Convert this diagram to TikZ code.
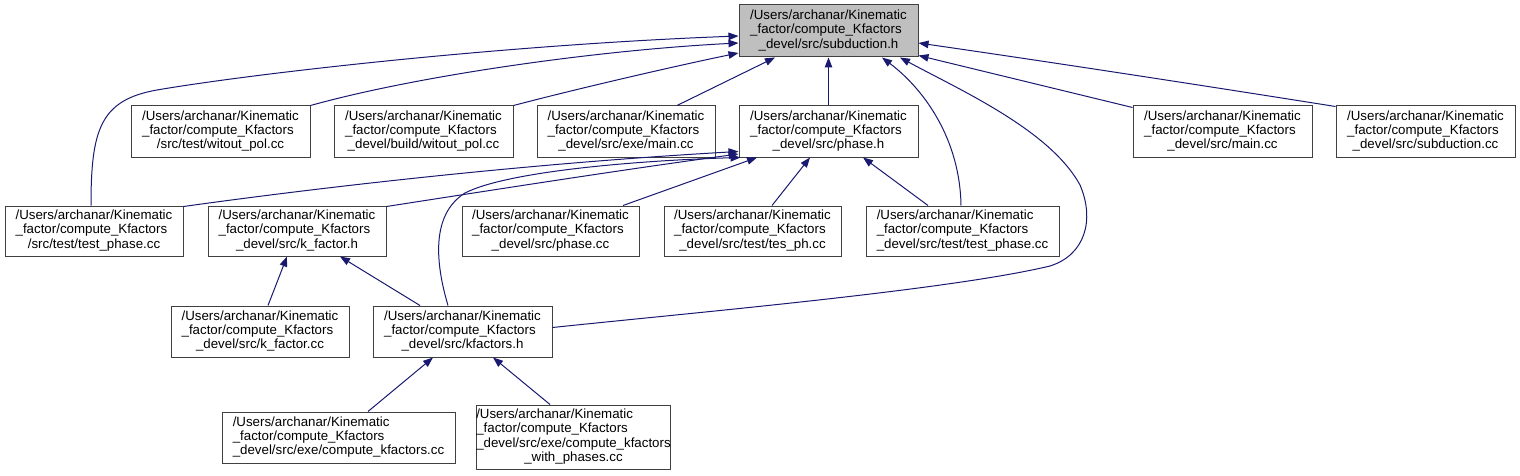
\documentclass[tikz,border=0pt]{standalone}
\usepackage{fontspec}
\setmainfont{Liberation Sans}
\usetikzlibrary{arrows.meta}
\definecolor{edgeblue}{HTML}{191970}
\definecolor{boxline}{HTML}{404040}
\definecolor{boxgray}{HTML}{BFBFBF}
\newcommand\tlines[3]{\begin{tabular}{@{}l@{}}#1\\#2\\\multicolumn{1}{@{}c@{}}{#3}\end{tabular}}
\newcommand\qlines[4]{\begin{tabular}{@{}l@{}}#1\\#2\\#3\\\multicolumn{1}{@{}c@{}}{#4}\end{tabular}}
\newcommand\UK{/Users/archanar/Kinematic}
\newcommand\FC{\_factor/compute\_Kfactors}
\begin{document}
\begin{tikzpicture}[x=1pt,y=-1pt,
  filebox/.style={draw=boxline, line width=1pt, fill=white, rectangle, inner sep=0pt,
    font=\fontsize{13.3pt}{14.3pt}\selectfont, text=black},
  edge/.style={draw=edgeblue, line width=1pt, -{Triangle[length=10pt,width=7.5pt]}}]
\useasboundingbox (0,0) rectangle (1520,476);
% nodes
\node[filebox, fill=boxgray, minimum width=179pt, minimum height=52pt] (S) at (828.5,31) {\tlines{\UK}{\FC}{\_devel/src/subduction.h}};
\node[filebox, minimum width=179pt, minimum height=51pt] (A) at (220.5,131.5) {\tlines{\UK}{\FC}{/src/test/witout\_pol.cc}};
\node[filebox, minimum width=179pt, minimum height=51pt] (B) at (423.5,131.5) {\tlines{\UK}{\FC}{\_devel/build/witout\_pol.cc}};
\node[filebox, minimum width=178pt, minimum height=51pt] (C) at (626,131.5) {\tlines{\UK}{\FC}{\_devel/src/exe/main.cc}};
\node[filebox, minimum width=179pt, minimum height=51pt] (D) at (828.5,131.5) {\tlines{\UK}{\FC}{\_devel/src/phase.h}};
\node[filebox, minimum width=179pt, minimum height=51pt] (E) at (1222.5,131.5) {\tlines{\UK}{\FC}{\_devel/src/main.cc}};
\node[filebox, minimum width=179pt, minimum height=51pt] (F) at (1425.5,131.5) {\tlines{\UK}{\FC}{\_devel/src/subduction.cc}};
\node[filebox, minimum width=178pt, minimum height=50pt] (G) at (94,231) {\tlines{\UK}{\FC}{/src/test/test\_phase.cc}};
\node[filebox, minimum width=178pt, minimum height=50pt] (H) at (297,231) {\tlines{\UK}{\FC}{\_devel/src/k\_factor.h}};
\node[filebox, minimum width=177pt, minimum height=50pt] (I) at (550.5,231) {\tlines{\UK}{\FC}{\_devel/src/phase.cc}};
\node[filebox, minimum width=177pt, minimum height=50pt] (J) at (752.5,231) {\tlines{\UK}{\FC}{\_devel/src/test/tes\_ph.cc}};
\node[filebox, minimum width=193pt, minimum height=50pt] (K) at (962.5,231) {\tlines{\UK}{\FC}{\_devel/src/test/test\_phase.cc}};
\node[filebox, minimum width=178pt, minimum height=51pt] (L) at (260,331.5) {\tlines{\UK}{\FC}{\_devel/src/k\_factor.cc}};
\node[filebox, minimum width=179pt, minimum height=51pt] (M) at (462.5,331.5) {\tlines{\UK}{\FC}{\_devel/src/kfactors.h}};
\node[filebox, minimum width=233pt, minimum height=51pt] (N) at (338.5,437.5) {\tlines{\UK}{\FC}{\_devel/src/exe/compute\_kfactors.cc}};
\node[filebox, minimum width=189pt, minimum height=64pt] (O) at (573.5,437) {\qlines{\UK}{\FC}{\_devel/src/exe/compute\_kfactors}{\_with\_phases.cc}};
% edges into subduction.h
\draw[edge] ([xshift=-3pt]G.north) .. controls (91,130) and (100,100) .. (157,90) .. controls (250,74) and (500,45) .. ([yshift=-5pt]S.west);
\draw[edge] (A.north east) .. controls (420,75) and (600,50) .. ([yshift=-12pt]S.west);
\draw[edge] (B.north east) .. controls (580,88) and (680,65) .. ([yshift=-22pt]S.west);
\draw[edge] ([xshift=51pt]C.north) -- ([xshift=-53.5pt]S.south);
\draw[edge] (D.north) -- (S.south);
\draw[edge] ([xshift=-1.5pt]K.north) .. controls (960,140) and (925,90) .. ([xshift=53.5pt]S.south);
\draw[edge] ([yshift=4pt]M.east) .. controls (700,312) and (950,290) .. (1050,266) .. controls (1085,255) and (1095,220) .. (1080,185) .. controls (1050,130) and (960,90) .. ([xshift=71.5pt]S.south);
\draw[edge] ([yshift=-2pt]E.north west) -- ([yshift=2pt]S.south east);
\draw[edge] ([yshift=-1pt]F.north west) .. controls (1200,85) and (1050,62) .. ([yshift=-12pt]S.east);
% edges into phase.h
\draw[edge] ([yshift=-1pt]G.north east) .. controls (280,193) and (500,165) .. ([yshift=-20pt]D.west);
\draw[edge] ([yshift=-1pt]H.north east) .. controls (480,192) and (620,170) .. ([yshift=-22.5pt]D.west);
\draw[edge] ([xshift=-14.5pt]M.north) .. controls (436,265) and (430,215) .. (465,193) .. controls (510,170) and (650,160) .. ([xshift=2pt]D.south west);
\draw[edge] ([xshift=72.5pt]I.north) -- ([xshift=18.5pt]D.south west);
\draw[edge] ([xshift=19.5pt]J.north) -- ([xshift=-18.5pt]D.south);
\draw[edge] ([xshift=-34.5pt]K.north) -- ([xshift=34.5pt]D.south);
% edges into k_factor.h
\draw[edge] ([xshift=8pt]L.north) -- ([xshift=-10pt]H.south);
\draw[edge] ([xshift=-42.5pt]M.north) -- ([xshift=43pt]H.south);
% edges into kfactors.h
\draw[edge] ([xshift=29.5pt]N.north) -- ([xshift=-29.5pt]M.south);
\draw[edge] ([xshift=-23.5pt]O.north) -- ([xshift=30.5pt]M.south);
\end{tikzpicture}
\end{document}
